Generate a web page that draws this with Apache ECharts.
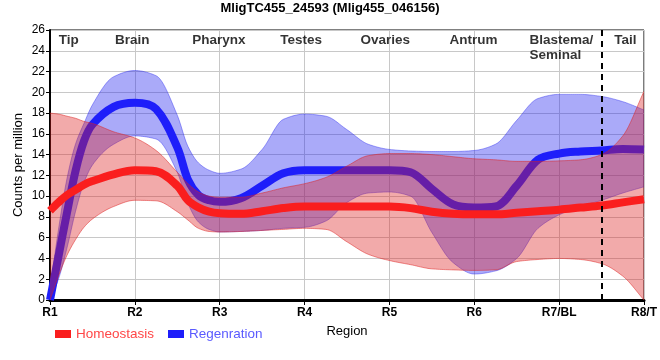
<!DOCTYPE html>
<html>
<head>
<meta charset="utf-8">
<script src="https://cdn.jsdelivr.net/npm/echarts@6/dist/echarts.min.js"></script>
<style>html,body{margin:0;padding:0;background:#fff}#c{width:660px;height:360px}</style>
</head>
<body>
<div id="c"></div>
<script>
// ---------- data ----------
const titleText = 'MligTC455_24593 (Mlig455_046156)';
const xLabels = ['R1', 'R2', 'R3', 'R4', 'R5', 'R6', 'R7/BL', 'R8/T'];
const yTicksMax = 26;
const regionNames = ['Tip', 'Brain', 'Pharynx', 'Testes', 'Ovaries', 'Antrum', 'Blastema/\nSeminal', 'Tail'];
const regionPos = [0.22, 0.97, 1.99, 2.96, 3.95, 4.99, 5.65, 6.78];
const regionLabelY = 25.75;
const dividerPos = 6.5;

// sample positions along the region axis (R1 = 0 ... R8/T = 7)
const tGrid = [0, 0.1, 0.2, 0.3, 0.4, 0.5, 0.75, 1, 1.25, 1.5, 1.625, 1.75, 1.875, 2, 2.25, 2.5, 2.75, 3,
  3.25, 3.5, 3.75, 4, 4.25, 4.5, 4.75, 5, 5.25, 5.5, 5.75, 6, 6.25, 6.5, 6.75, 7];

const homeoMean = [8.6, 9.4, 10.1, 10.6, 11.1, 11.45, 12.1, 12.5, 12.4, 11.0, 9.6, 8.9, 8.5, 8.35, 8.3, 8.55, 8.85, 9.0,
  9.0, 9.0, 9.0, 9.0, 8.85, 8.5, 8.3, 8.25, 8.25, 8.4, 8.55, 8.7, 8.9, 9.1, 9.4, 9.7];
const homeoUpper = [18.0, 17.9, 17.7, 17.5, 17.2, 17.0, 16.2, 15.6, 14.4, 12.3, 11.2, 10.4, 10.0, 9.9, 9.9, 10.3, 10.8, 11.2,
  11.8, 12.9, 13.9, 14.1, 14.1, 14.0, 13.8, 13.6, 13.5, 13.35, 13.35, 13.4, 13.5, 14.0, 15.8, 20.1];
const homeoLower = [0, 2.3, 4.3, 5.8, 7.0, 7.8, 9.0, 9.6, 9.55, 8.5, 7.7, 6.9, 6.6, 6.55, 6.6, 6.7, 6.8, 6.9,
  6.8, 5.6, 4.4, 3.8, 3.4, 3.0, 2.9, 2.85, 2.9, 3.7, 3.9, 4.0, 3.9, 3.5, 2.3, 0];

const regenMean = [0, 4.2, 8.4, 12.4, 15.3, 16.9, 18.6, 19.0, 18.4, 14.7, 11.6, 10.1, 9.6, 9.45, 9.8, 11.0, 12.2, 12.5,
  12.5, 12.5, 12.5, 12.5, 12.3, 10.7, 9.2, 8.9, 9.0, 11.0, 13.5, 14.1, 14.3, 14.4, 14.55, 14.5];
const regenUpper = [1.0, 6.8, 11.7, 15.0, 17.0, 18.8, 21.5, 22.1, 21.6, 17.8, 14.8, 13.2, 12.5, 12.2, 12.6, 14.5, 17.4, 17.9,
  17.7, 16.4, 15.0, 14.5, 14.35, 14.3, 14.3, 14.4, 15.0, 17.3, 19.4, 19.8, 19.8, 19.6, 19.1, 18.3];
const regenLower = [0, 2.0, 5.0, 8.5, 11.3, 13.0, 15.0, 15.8, 15.5, 12.3, 9.3, 7.5, 6.8, 6.55, 6.6, 6.7, 6.9, 7.0,
  7.6, 9.4, 10.3, 10.4, 10.0, 6.5, 3.6, 2.5, 2.8, 4.0, 6.9, 8.2, 9.0, 9.6, 10.3, 10.9];

// ---------- drawing helpers ----------
const pairs = (ys) => tGrid.map((t, i) => [t, ys[i]]);

// monotone cubic (Fritsch-Carlson) through pixel points, sampled for drawing
function monoCurve(p) {
  const n = p.length, d = [], m = [];
  for (let k = 0; k < n - 1; k++) d.push((p[k + 1][1] - p[k][1]) / (p[k + 1][0] - p[k][0]));
  m[0] = d[0]; m[n - 1] = d[n - 2];
  for (let k = 1; k < n - 1; k++) {
    if (d[k - 1] * d[k] <= 0) m[k] = 0;
    else {
      const h0 = p[k][0] - p[k - 1][0], h1 = p[k + 1][0] - p[k][0];
      const w1 = 2 * h1 + h0, w2 = h1 + 2 * h0;
      m[k] = (w1 + w2) / (w1 / d[k - 1] + w2 / d[k]);
    }
  }
  const out = [];
  for (let k = 0; k < n - 1; k++) {
    const x0 = p[k][0], x1 = p[k + 1][0], y0 = p[k][1], y1 = p[k + 1][1], h = x1 - x0;
    const steps = Math.max(4, Math.ceil(h / 2));
    for (let s = 0; s < steps; s++) {
      const u = s / steps, u2 = u * u, u3 = u2 * u;
      const y = (2 * u3 - 3 * u2 + 1) * y0 + (u3 - 2 * u2 + u) * h * m[k] + (-2 * u3 + 3 * u2) * y1 + (u3 - u2) * h * m[k + 1];
      out.push([x0 + u * h, y]);
    }
  }
  out.push(p[n - 1].slice());
  return out;
}

function bandSeries(upper, lower, fill, edge, z) {
  return {
    type: 'custom', silent: true, clip: true, z: z,
    data: pairs(upper), encode: { x: 0, y: 1 },
    renderItem: function (params, api) {
      if (params.dataIndex !== 0) return null;
      const up = monoCurve(tGrid.map((t, i) => api.coord([t, upper[i]])));
      const lo = monoCurve(tGrid.map((t, i) => api.coord([t, lower[i]])));
      const poly = up.concat(lo.slice().reverse());
      return {
        type: 'group',
        children: [
          { type: 'polygon', shape: { points: poly }, style: { fill: fill, stroke: null } },
          { type: 'polyline', shape: { points: up }, style: { stroke: edge, lineWidth: 1, fill: null } },
          { type: 'polyline', shape: { points: lo }, style: { stroke: edge, lineWidth: 1, fill: null } }
        ]
      };
    }
  };
}

const FONT = '"Liberation Sans", Arial, sans-serif';
const redLine = '#fa1e1e', blueLine = '#1e1efa';
const redFill = 'rgba(222,32,32,0.38)', blueFill = 'rgba(32,32,238,0.38)';
const redEdge = 'rgba(222,32,32,0.5)', blueEdge = 'rgba(32,32,238,0.4)';

const chart = echarts.init(document.getElementById('c'), null, { renderer: 'canvas' });
chart.setOption({
  animation: false,
  backgroundColor: '#fff',
  textStyle: { fontFamily: FONT },
  title: { text: titleText, left: 'center', top: 0, padding: [2, 5],
    textStyle: { fontFamily: FONT, fontSize: 13, fontWeight: 'bold', color: '#000' } },
  grid: { left: 50, right: 10, top: 30, bottom: 60, show: true, borderColor: '#000', borderWidth: 1 },
  legend: {
    left: 50, top: 322, itemWidth: 16, itemHeight: 8, itemGap: 14, icon: 'rect',
    textStyle: { fontFamily: FONT, fontSize: 13.5 },
    data: [{ name: 'Homeostasis', textStyle: { color: '#ff4646' } },
           { name: 'Regenration', textStyle: { color: '#5a5aff' } }]
  },
  xAxis: {
    type: 'value', min: 0, max: xLabels.length - 1, interval: 1,
    name: 'Region', nameLocation: 'middle', nameGap: 25,
    nameTextStyle: { fontFamily: FONT, fontSize: 13, color: '#000' },
    axisLine: { lineStyle: { color: '#000', width: 3 } },
    axisTick: { show: true, length: 5, lineStyle: { color: '#000', width: 1 } },
    axisLabel: { formatter: (v) => xLabels[v] || '', color: '#000', fontWeight: 'bold', fontSize: 12, margin: 7, fontFamily: FONT },
    splitLine: { show: true, lineStyle: { color: '#c8c8c8', width: 1 } }
  },
  yAxis: {
    type: 'value', min: 0, max: yTicksMax, interval: 2,
    name: 'Counts per million', nameLocation: 'middle', nameGap: 25, nameMoveOverlap: false,
    nameTextStyle: { fontFamily: FONT, fontSize: 13, color: '#000' },
    axisLine: { show: true, lineStyle: { color: '#000', width: 2 } },
    axisTick: { show: true, length: 4, lineStyle: { color: '#000' } },
    axisLabel: { color: '#000', fontSize: 12, margin: 5, fontFamily: FONT },
    splitLine: { show: true, lineStyle: { color: '#c8c8c8', width: 1 } }
  },
  series: [
    bandSeries(regenUpper, regenLower, blueFill, blueEdge, 1),
    { name: 'Regenration', type: 'line', z: 2, data: pairs(regenMean), smooth: 0.35, symbol: 'none',
      lineStyle: { color: blueLine, width: 8 }, itemStyle: { color: blueLine }, emphasis: { disabled: true } },
    bandSeries(homeoUpper, homeoLower, redFill, redEdge, 3),
    { name: 'Homeostasis', type: 'line', z: 4, data: pairs(homeoMean), smooth: 0.35, symbol: 'none',
      lineStyle: { color: redLine, width: 8 }, itemStyle: { color: redLine }, emphasis: { disabled: true } },
    { type: 'scatter', symbolSize: 0, silent: true, z: 5,
      data: regionPos.map((p, i) => ({
        value: [p, regionLabelY],
        label: { formatter: regionNames[i], align: regionNames[i].indexOf('\n') >= 0 ? 'left' : 'center' }
      })),
      label: { show: true, position: 'inside', verticalAlign: 'top', color: '#000', fontWeight: 'bold',
        fontSize: 13.5, lineHeight: 15, fontFamily: FONT },
      markLine: { silent: true, symbol: ['none', 'none'], label: { show: false },
        lineStyle: { color: '#000', type: [6, 5], width: 2 },
        data: [{ xAxis: dividerPos }] }
    }
  ]
});
</script>
</body>
</html>
